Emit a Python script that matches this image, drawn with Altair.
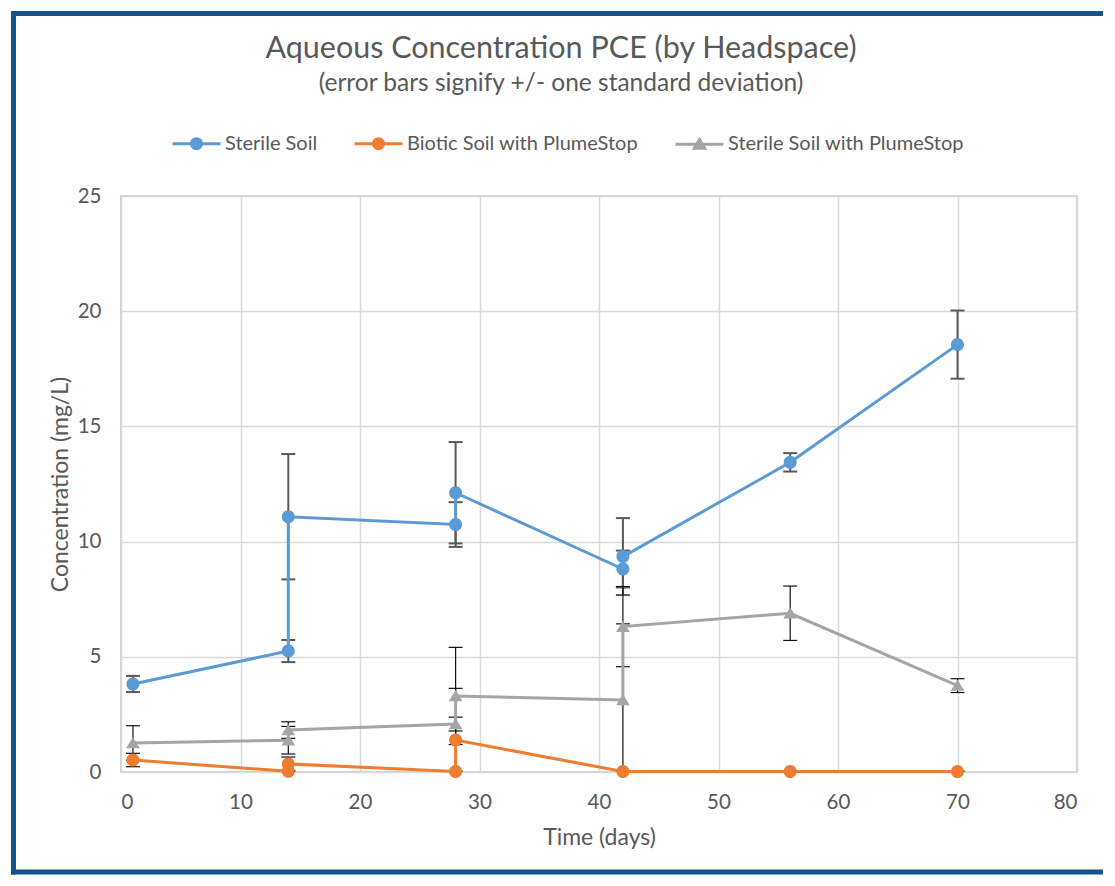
import altair as alt
import pandas as pd

# ---------------- data ----------------
series_names = ["Sterile Soil", "Biotic Soil with PlumeStop", "Sterile Soil with PlumeStop"]
series_colors = ["#5b9bd5", "#ed7d31", "#a5a5a5"]

sterile_day = [1, 14, 14, 28, 28, 42, 42, 56, 70]
sterile_conc = [3.82, 5.25, 11.08, 10.74, 12.12, 8.81, 9.35, 13.44, 18.55]
sterile_sd = [0.35, 0.48, 2.72, 0.97, 2.20, 0.80, 1.67, 0.40, 1.48]

biotic_day = [1, 14, 14, 28, 28, 42, 56, 70]
biotic_conc = [0.52, 0.03, 0.35, 0.02, 1.39, 0.02, 0.02, 0.02]
biotic_sd = [0.29, 0.03, 0.30, 0.02, 2.24, 0.02, 0.02, 0.02]

sps_day = [1, 14, 14, 28, 28, 42, 42, 56, 70]
sps_conc = [1.26, 1.38, 1.82, 2.08, 3.30, 3.13, 6.31, 6.89, 3.75]
sps_sd = [0.75, 0.60, 0.36, 0.30, 2.11, 3.30, 1.74, 1.18, 0.30]

x_ticks = [0, 10, 20, 30, 40, 50, 60, 70, 80]
y_ticks = [0, 5, 10, 15, 20, 25]

rows = []
for name, days, concs, sds in zip(
    series_names,
    [sterile_day, biotic_day, sps_day],
    [sterile_conc, biotic_conc, sps_conc],
    [sterile_sd, biotic_sd, sps_sd],
):
    for i, (d, c, s) in enumerate(zip(days, concs, sds)):
        rows.append({"series": name, "order": i, "day": d, "conc": c, "sd": s})
df = pd.DataFrame(rows)

# ---------------- styling ----------------
FONT = "Lato"
TEXT = "#595959"
FRAME = "#14568a"
W, H = 956, 576

base = alt.Chart(df).transform_calculate(
    lo="datum.conc - datum.sd", hi="datum.conc + datum.sd"
)

xenc = alt.X(
    "day:Q",
    scale=alt.Scale(domain=[0, 80], nice=False, zero=False),
    axis=alt.Axis(values=x_ticks, title="Time (days)", format="d"),
)
yenc = alt.Y(
    "conc:Q",
    scale=alt.Scale(domain=[0, 25], nice=False),
    axis=alt.Axis(values=y_ticks, title="Concentration (mg/L)", format="d"),
)

# marker shapes with a horizontal stroke segment: the segment is only visible
# in the legend (where symbols are stroked); plot markers are fill-only.
circ_path = "M-1,0L1,0M-0.21,0A0.21,0.21,0,1,1,0.21,0A0.21,0.21,0,1,1,-0.21,0Z"
tri_path = "M-1,0L1,0M0,-0.19L0.22,0.17L-0.22,0.17Z"

legend = alt.Legend(
    title=None,
    orient="none",
    legendX=50,
    legendY=-78,
    direction="horizontal",
    symbolSize=2304,
    symbolStrokeWidth=3,
    labelFont=FONT,
    labelFontSize=20,
    labelColor=TEXT,
    labelOffset=3,
    labelLimit=400,
    columnPadding=30,
    padding=0,
)

fill = alt.Fill(
    "series:N", scale=alt.Scale(domain=series_names, range=series_colors), legend=legend
)
stroke = alt.Stroke(
    "series:N", scale=alt.Scale(domain=series_names, range=series_colors), legend=legend
)
shape = alt.Shape(
    "series:N",
    scale=alt.Scale(domain=series_names, range=[circ_path, circ_path, tri_path]),
    legend=legend,
)


def error_layers(test, col, width):
    sub = base.transform_filter(test)
    stem = sub.mark_rule(color=col, strokeWidth=width, clip=True).encode(
        x=xenc, y=alt.Y("lo:Q"), y2="hi:Q"
    )
    cap_hi = sub.mark_tick(
        color=col, orient="horizontal", size=14, thickness=width, clip=True, opacity=1
    ).encode(x=xenc, y=alt.Y("hi:Q"))
    cap_lo = sub.mark_tick(
        color=col, orient="horizontal", size=14, thickness=width, clip=True, opacity=1
    ).encode(x=xenc, y=alt.Y("lo:Q"))
    return [stem, cap_hi, cap_lo]


err_blue = error_layers(f"datum.series === '{series_names[0]}'", "#595959", 2)
err_other = error_layers(f"datum.series !== '{series_names[0]}'", "#111111", 1.2)

lines = base.mark_line(strokeWidth=3).encode(
    x=xenc, y=yenc, stroke=stroke, order="order:Q"
)
points = base.mark_point(filled=True, opacity=1, size=3844).encode(
    x=xenc, y=yenc, fill=fill, shape=shape
)

one = alt.Chart(pd.DataFrame({"k": [0]}))
frame_top = one.mark_rule(color=FRAME, strokeWidth=5).encode(
    x=alt.value(-110), x2=alt.value(982), y=alt.value(-182.5)
)
frame_left = one.mark_rule(color=FRAME, strokeWidth=5).encode(
    x=alt.value(-107.5), y=alt.value(-185), y2=alt.value(678.5)
)
frame_bottom = one.mark_rule(color=FRAME, strokeWidth=5).encode(
    x=alt.value(-110), x2=alt.value(982), y=alt.value(676)
)

chart = (
    alt.layer(frame_top, frame_left, frame_bottom, *err_blue, *err_other, lines, points)
    .properties(
        width=W,
        height=H,
        padding=0,
        title=alt.TitleParams(
            text="Aqueous Concentration PCE (by Headspace)",
            subtitle="(error bars signify +/- one standard deviation)",
            font=FONT,
            fontSize=30.5,
            fontWeight="normal",
            color=TEXT,
            subtitleFont=FONT,
            subtitleFontSize=24.5,
            subtitleColor=TEXT,
            subtitlePadding=8,
            anchor="middle",
            frame="bounds",
            offset=-87,
            dx=4,
        ),
    )
    .configure_view(stroke="#c4c4c4", strokeWidth=1.5)
    .configure_axis(
        grid=True,
        gridColor="#d9d9d9",
        gridWidth=1.5,
        domain=False,
        ticks=False,
        labelFont=FONT,
        labelFontSize=20.5,
        labelColor=TEXT,
        titleFont=FONT,
        titleFontSize=23,
        titleFontWeight="normal",
        titleColor=TEXT,
    )
    .configure_axisX(labelPadding=20, titlePadding=14)
    .configure_axisY(labelPadding=20, titlePadding=5)
)

chart.save("out.html", embed_options={"renderer": "svg", "actions": False})
